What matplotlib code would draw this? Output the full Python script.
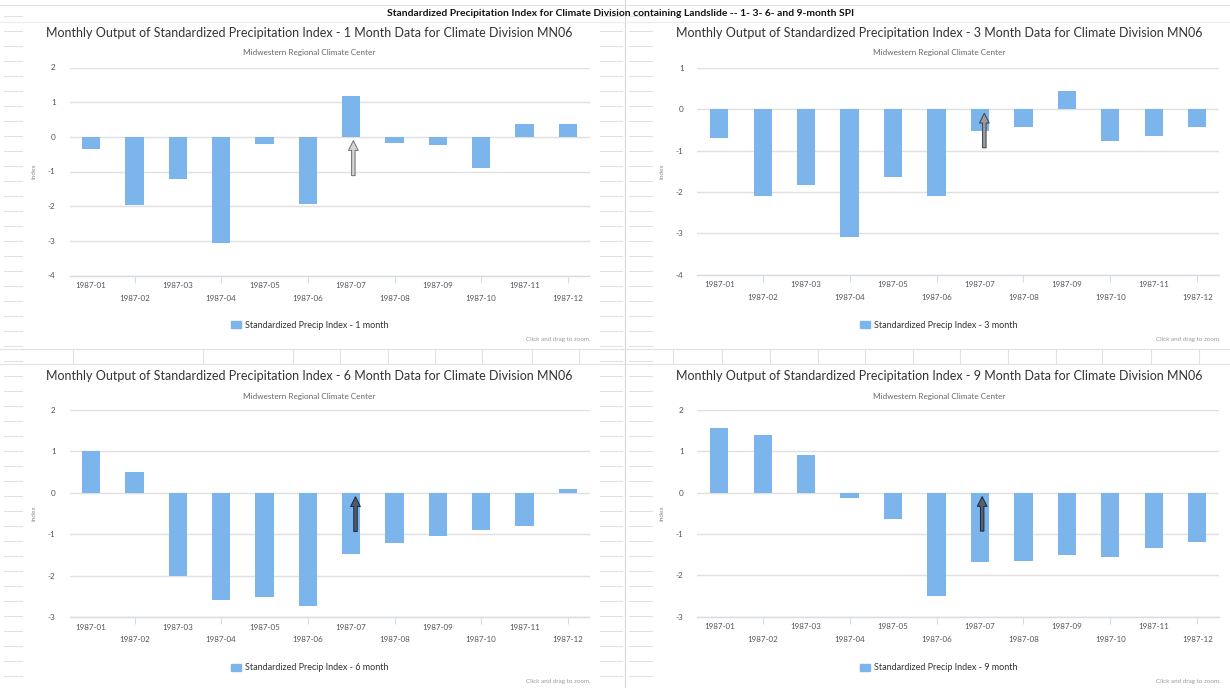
import matplotlib
matplotlib.use("Agg")
import matplotlib.pyplot as plt
from matplotlib.lines import Line2D
from matplotlib.patches import Patch

plt.rcParams['font.family'] = ['Lato', 'DejaVu Sans']

# ---- data -------------------------------------------------------------
months = ["1987-01", "1987-02", "1987-03", "1987-04", "1987-05", "1987-06",
          "1987-07", "1987-08", "1987-09", "1987-10", "1987-11", "1987-12"]

spi_1 = [-0.34, -1.98, -1.22, -3.06, -0.22, -1.95, 1.19, -0.17, -0.24, -0.90, 0.38, 0.38]
spi_3 = [-0.69, -2.09, -1.83, -3.09, -1.64, -2.11, -0.52, -0.43, 0.44, -0.76, -0.65, -0.43]
spi_6 = [1.02, 0.50, -2.02, -2.58, -2.52, -2.74, -1.48, -1.22, -1.05, -0.90, -0.81, 0.08]
spi_9 = [1.56, 1.39, 0.91, -0.13, -0.65, -2.51, -1.69, -1.65, -1.51, -1.55, -1.35, -1.19]

windows = [1, 3, 6, 9]
series = [spi_1, spi_3, spi_6, spi_9]

# landslide month marked with an arrow, and where each arrow starts
landslide_month = "1987-07"
arrow_from = [-1.2, -1.0, -1.0, -1.0]

# ---- layout (pixels) --------------------------------------------------
W, H, DPI = 1230, 688, 100
fig = plt.figure(figsize=(W / DPI, H / DPI), dpi=DPI, facecolor="white")


def fx(px):
    return px / W


def fy(py):
    return 1 - py / H


def hline(y, x0, x1, color="#e2e2e2", lw=0.8):
    fig.add_artist(Line2D([fx(x0), fx(x1)], [fy(y), fy(y)], transform=fig.transFigure,
                          color=color, lw=lw, zorder=0))


def vline(x, y0, y1, color="#e2e2e2", lw=0.8):
    fig.add_artist(Line2D([fx(x), fx(x)], [fy(y0), fy(y1)], transform=fig.transFigure,
                          color=color, lw=lw, zorder=0))


# faint worksheet cells behind the charts
for y in range(16, 688, 15):
    hline(y, 4, 22)
    hline(y, 600, 622)
    hline(y, 629, 652)
vline(625, 0, 688, color="#d6d6d6")
hline(5, 0, 1230)
hline(22, 0, 1230, color="#ececec")
hline(349, 0, 1230)
hline(364, 0, 1230)
for x in [73, 203, 293, 340, 388, 435, 482, 532, 579,
          673, 722, 770, 818, 865, 913, 960, 1008, 1056, 1102, 1151, 1199]:
    vline(x, 349, 364)

fig.text(fx(621), fy(13), "Standardized Precipitation Index for Climate Division containing "
         "Landslide -- 1- 3- 6- and 9-month SPI", ha="center", va="center",
         fontsize=7.4, fontweight="bold", color="#111111")

# plot area of each panel: left, right, top (max tick), bottom (min tick)
plot_boxes = [
    (69.5, 589.5, 67.5, 275.5),
    (697.5, 1219.0, 68.0, 274.5),
    (69.5, 589.5, 410.0, 617.0),
    (697.5, 1219.0, 410.0, 616.5),
]
y_ranges = [(-4, 2), (-4, 1), (-3, 2), (-3, 2)]
title_cx = [309, 939, 309, 939]
legend_cx = [310, 939, 310, 939]
click_rx = [591, 1221, 591, 1221]
row_y0 = [0, 0, 343, 343]
arrow_dx = [0.05, 0.1, 0.1, 0.05]
arrow_styles = [
    dict(fc="#d4d4d4", ec="#6e6e6e"),
    dict(fc="#9c9c9c", ec="#3a3f48"),
    dict(fc="#4f5a6e", ec="#1d2738"),
    dict(fc="#56606f", ec="#1d2738"),
]

BAR = "#7cb5ec"
GRID = "#e0e0e0"
TICK = "#555555"

for i, (vals, win) in enumerate(zip(series, windows)):
    left, right, top, bottom = plot_boxes[i]
    ax = fig.add_axes([fx(left), fy(bottom), (right - left) / W, (bottom - top) / H])
    ax.set_facecolor("none")
    x = list(range(len(months)))
    ax.bar(x, vals, width=0.42, color=BAR, zorder=3,
           label=f"Standardized Precip Index - {win} month")
    lo, hi = y_ranges[i]
    ax.set_ylim(lo, hi)
    ax.set_xlim(-0.5, len(months) - 0.5)
    ax.set_yticks(range(lo, hi + 1))
    ax.set_yticklabels([str(v) for v in range(lo, hi + 1)])
    ax.grid(axis="y", color=GRID, lw=1.0, zorder=0)
    for s in ["top", "right", "left"]:
        ax.spines[s].set_visible(False)
    ax.spines["bottom"].set_color("#d6dbe4")
    ax.spines["bottom"].set_linewidth(1.0)
    ax.tick_params(axis="y", length=0, pad=10, labelsize=5.9, labelcolor=TICK)

    # staggered month labels: odd months on the first row, even months below
    ax.set_xticks(x[0::2])
    ax.set_xticklabels(months[0::2])
    ax.set_xticks(x[1::2], minor=True)
    ax.set_xticklabels(months[1::2], minor=True)
    ax.tick_params(axis="x", which="major", length=0, pad=5.0, labelsize=5.8, labelcolor=TICK)
    ax.tick_params(axis="x", which="minor", length=5, width=0.8, color="#d6dbe4",
                   pad=9.0, labelsize=5.8, labelcolor=TICK)

    ax.set_ylabel("Index", fontsize=4.6, color="#8a8a8a", labelpad=8)

    j = months.index(landslide_month)
    ax.annotate("", xy=(j + arrow_dx[i], -0.03), xytext=(j + arrow_dx[i], arrow_from[i]),
                arrowprops=dict(arrowstyle="simple,head_length=0.7,head_width=0.7,tail_width=0.25",
                                lw=0.7, mutation_scale=10, **arrow_styles[i]), zorder=5)

    y0 = row_y0[i]
    fig.text(fx(title_cx[i]), fy(y0 + 33),
             f"Monthly Output of Standardized Precipitation Index - {win} Month Data for "
             f"Climate Division MN06", ha="center", va="center", fontsize=9.0, color="#333333")
    fig.text(fx(title_cx[i]), fy(y0 + 53), "Midwestern Regional Climate Center",
             ha="center", va="center", fontsize=5.9, color="#666666")
    fig.text(fx(click_rx[i]), fy(y0 + 339), "Click and drag to zoom.",
             ha="right", va="center", fontsize=4.5, color="#9a9a9a")

    ax.legend(handles=[Patch(color=BAR, label=f"Standardized Precip Index - {win} month")],
              loc="center", bbox_to_anchor=(fx(legend_cx[i]), fy(y0 + 325)),
              bbox_transform=fig.transFigure, frameon=False, fontsize=6.5,
              handlelength=1.1, handleheight=0.9, handletextpad=0.5, labelcolor="#333333",
              borderpad=0)

fig.savefig("out.png", dpi=DPI, facecolor="white")
